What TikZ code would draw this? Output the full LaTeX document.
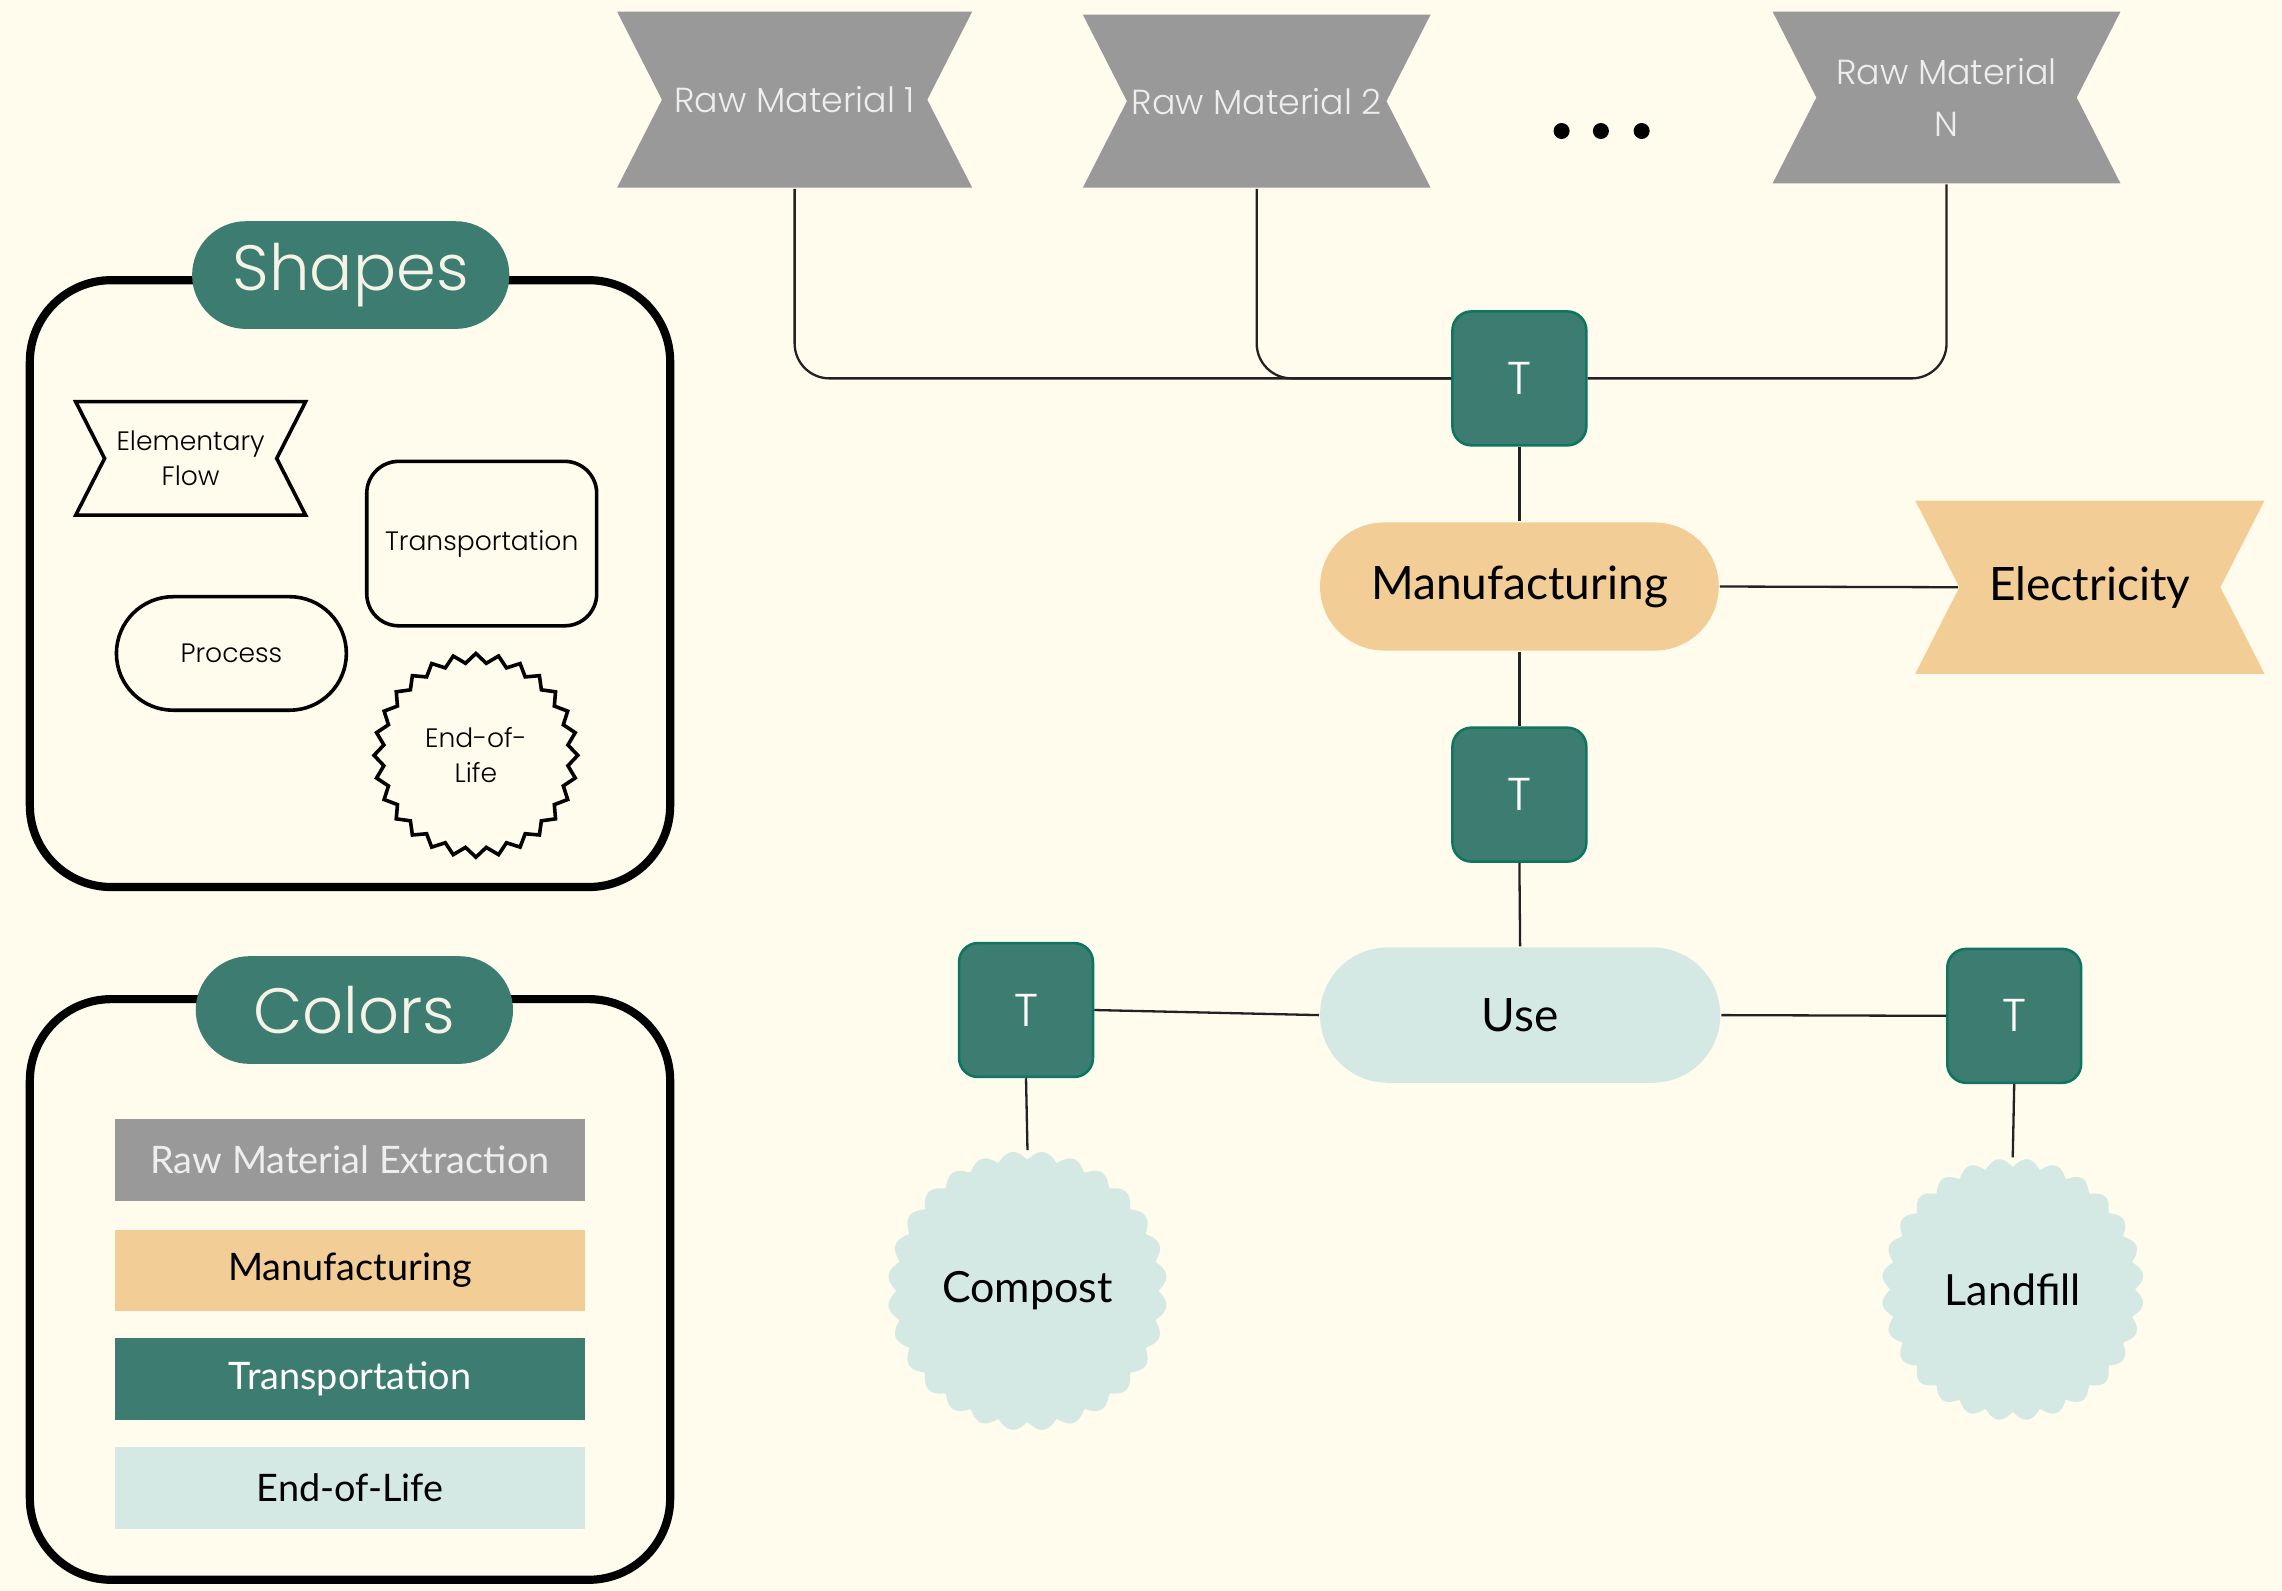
\documentclass[tikz,border=0pt]{standalone}
\usepackage{fontspec}
\setmainfont{Lato}
\newfontfamily\thinfont{Poppins Light}
\usetikzlibrary{positioning, shapes.symbols, shapes.misc, shapes.geometric}
\definecolor{cream}{RGB}{255,251,237}
\definecolor{lcateal}{RGB}{61,125,113}
\definecolor{tealedge}{RGB}{14,117,96}
\definecolor{rawgray}{RGB}{153,153,153}
\definecolor{manufcol}{RGB}{242,206,150}
\definecolor{eolcol}{RGB}{212,233,228}
\definecolor{paleink}{RGB}{238,238,238}
\definecolor{titleink}{RGB}{246,242,230}
\definecolor{ink}{RGB}{34,34,34}

\begin{document}
\begin{tikzpicture}[x=0.1mm, y=-0.1mm,
    flow/.style={signal, signal to=nowhere, signal from=west and east, signal pointer angle=126, inner sep=0pt, align=center},
    rawflow/.style={flow, fill=rawgray, text=paleink, font=\thinfont\fontsize{6.8}{10.2}\selectfont},
    transport/.style={rectangle, rounded corners=1.3mm, fill=lcateal, draw=tealedge, line width=0.5pt, minimum size=9.2mm, text=white, font=\thinfont\fontsize{9}{10}\selectfont},
    process/.style={rectangle, rounded corners=4.4mm, minimum width=27.4mm, minimum height=8.8mm, font=\fontsize{9}{11}\selectfont},
    eol/.style={circle, inner sep=0pt, font=\fontsize{8.4}{10}\selectfont},
    link/.style={ink, line width=0.45pt},
    frame/.style={draw, line width=1.6pt, rounded corners=5.6mm, minimum width=44mm},
    pill/.style={rectangle, rounded corners=3.7mm, fill=lcateal, minimum width=21.8mm, minimum height=7.4mm, text=titleink, font=\thinfont\fontsize{12.5}{14}\selectfont},
    keyshape/.style={draw, line width=0.7pt, align=center, font=\thinfont\fontsize{5.2}{6.8}\selectfont},
    legend/.style={rectangle, minimum width=32.3mm, minimum height=5.6mm, font=\fontsize{7.4}{9}\selectfont}]

    % fond
    \fill[cream] (0,0) rectangle (1568,1093);

    % Cadre des formes
    \node[frame, minimum height=41.7mm] (shapesbox) at (240.5,401) {};
    \node[pill] (shapestitle) at (241,189) {Shapes};
    \node[keyshape, flow, minimum width=15.8mm, minimum height=7.8mm] (keyflow) at (131,315) {Elementary\\Flow};
    \node[keyshape, rectangle, rounded corners=2.2mm, minimum width=15.8mm, minimum height=11.3mm] (keytransport) at (331,373.5) {Transportation};
    \node[keyshape, rectangle, rounded corners=3.9mm, minimum width=15.8mm, minimum height=7.8mm] (keyprocess) at (159,449) {Process};
    \node[keyshape, star, star points=28, star point ratio=1.1, minimum size=14mm, inner sep=0pt] (keyeol) at (327,519) {End-of-\\Life};

    % Cadre des couleurs
    \node[frame, minimum height=39.9mm] (colorsbox) at (240.5,886) {};
    \node[pill] (colorstitle) at (243.5,694) {Colors};
    \node[legend, fill=rawgray, text=paleink] (keyraw) at (240.5,797) {Raw Material Extraction};
    \node[legend, fill=manufcol] (keymanuf) at (240.5,873) {Manufacturing};
    \node[legend, fill=lcateal, text=white] (keytrans) at (240.5,947.5) {Transportation};
    \node[legend, fill=eolcol] (keyend) at (240.5,1022.5) {End-of-Life};

    % Matieres premieres
    \node[rawflow, minimum width=24.4mm, minimum height=12.1mm] (rm1) at (546,68.5) {Raw Material 1};
    \node[rawflow, minimum width=23.9mm, minimum height=11.9mm] (rm2) at (863.5,69.5) {Raw Material 2};
    \node[rawflow, minimum width=23.9mm, minimum height=11.8mm] (rmN) at (1337.5,67) {Raw Material\\N};
    \foreach \dx in {1073,1100,1128}
        \fill[black] (\dx,90) circle (0.55mm);

    % Chaine principale
    \node[transport] (t1) at (1044,260) {T};
    \node[process, fill=manufcol] (manuf) at (1044,403) {Manufacturing};
    \node[flow, fill=manufcol, minimum width=24mm, minimum height=11.9mm, font=\fontsize{9}{11}\selectfont] (elec) at (1436,403.5) {Electricity};
    \node[transport] (t2) at (1044,546) {T};
    \node[process, fill=eolcol, rounded corners=4.65mm, minimum width=27.5mm, minimum height=9.3mm] (use) at (1044.5,697.5) {Use};
    \node[transport] (t3) at (705,694) {T};
    \node[transport] (t4) at (1384,698) {T};

    % Fin de vie (bords festonnes)
    \coordinate (compost c) at (706,887);
    \coordinate (landfill c) at (1383,886);
    \fill[eolcol, shift={(compost c)}] plot[domain=0:360, samples=500] ({(90+6*abs(sin(14*\x)))*cos(\x)}, {(90+6*abs(sin(14*\x)))*sin(\x)});
    \fill[eolcol, shift={(landfill c)}] plot[domain=0:360, samples=500] ({(84+6*abs(sin(14*\x)))*cos(\x)}, {(84+6*abs(sin(14*\x)))*sin(\x)});
    \node[eol, minimum size=19.2mm] (compost) at (compost c) {Compost};
    \node[eol, minimum size=18mm] (landfill) at (landfill c) {Landfill};

    % Liaisons
    \draw[link, rounded corners=2.4mm] (rm1.south) |- (t1.west);
    \draw[link, rounded corners=2.4mm] (rm2.south) |- (t1.west);
    \draw[link, rounded corners=2.4mm] (rmN.south) |- (t1.east);
    \draw[link] (t1.south) -- (manuf.north);
    \draw[link] (manuf.east) -- (elec.west);
    \draw[link] (manuf.south) -- (t2.north);
    \draw[link] (t2.south) -- (use.north);
    \draw[link] (t3.east) -- (use.west);
    \draw[link] (use.east) -- (t4.west);
    \draw[link] (t3.south) -- (compost.north);
    \draw[link] (t4.south) -- (landfill.north);
\end{tikzpicture}
\end{document}
